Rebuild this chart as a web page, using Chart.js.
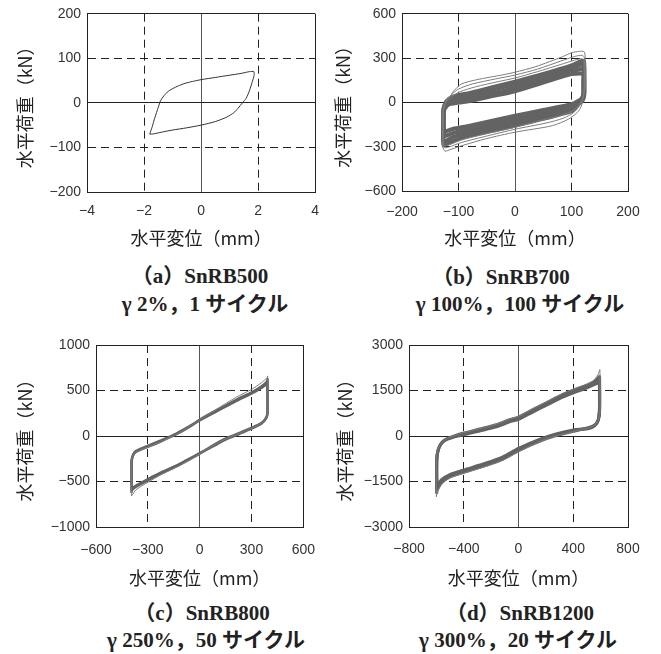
<!DOCTYPE html>
<html lang="ja">
<head>
<meta charset="utf-8">
<script src="https://cdn.jsdelivr.net/npm/chart.js@4.4.1/dist/chart.umd.min.js"></script>
<style>
  html, body { margin: 0; padding: 0; background: #fff; }
  #page { position: relative; width: 661px; height: 654px; overflow: hidden; }
  canvas { position: absolute; }
  .cap {
    position: absolute; transform: translate(-50%, -50%); white-space: nowrap;
    font-family: "Liberation Serif", "Noto Sans CJK JP", serif; font-weight: bold;
    font-size: 21px; line-height: 1; color: #222;
  }
</style>
</head>
<body>
<div id="page">
  <canvas id="chartA" width="330" height="255" style="left:0;top:0"></canvas>
  <canvas id="chartB" width="331" height="255" style="left:330px;top:0"></canvas>
  <canvas id="chartC" width="330" height="280" style="left:0;top:320px"></canvas>
  <canvas id="chartD" width="331" height="280" style="left:330px;top:320px"></canvas>

  <div class="cap" style="left:200px;top:276px">（a）SnRB500</div>
  <div class="cap" style="left:205px;top:304px">γ 2%，1 サイクル</div>
  <div class="cap" style="left:501px;top:277px">（b）SnRB700</div>
  <div class="cap" style="left:520px;top:304px">γ 100%，100 サイクル</div>
  <div class="cap" style="left:202px;top:613px">（c）SnRB800</div>
  <div class="cap" style="left:206px;top:640px">γ 250%，50 サイクル</div>
  <div class="cap" style="left:520px;top:613px">（d）SnRB1200</div>
  <div class="cap" style="left:518px;top:640px">γ 300%，20 サイクル</div>
</div>

<script>
// axis ranges [min, max, step]
const rangeXA = [-4, 4, 2],       rangeYA = [-200, 200, 100];
const rangeXB = [-200, 200, 100], rangeYB = [-600, 600, 300];
const rangeXC = [-600, 600, 300], rangeYC = [-1000, 1000, 500];
const rangeXD = [-800, 800, 400], rangeYD = [-3000, 3000, 1500];

const xTitle = '水平変位（mm）';
const yTitle = '水平荷重（kN）';

// loops as [displacement mm, load kN]
const loopA = [
  [-1.80,-70],[-1.72,-55],[-1.62,-33],[-1.50,-10],[-1.42,5],[-1.30,16],[-1.15,26],[-0.90,35],
  [-0.60,43],[-0.30,48],[0,52],[0.50,57],[1.00,62],[1.40,66],[1.70,70],[1.85,70],[1.86,62],
  [1.80,48],[1.70,28],[1.58,10],[1.45,0],[1.30,-12],[1.15,-22],[0.90,-32],[0.50,-42],[0,-50],
  [-0.50,-56],[-1.00,-61],[-1.40,-66],[-1.70,-70],[-1.80,-70]
];

// SnRB700: early cycles (thin) and the settled cycles (dark band)
const loopB1 = [
  [-124,-13],[-120,20],[-114,45],[-109,75],[-95,124],[-68,153],[-22,186],[0,204],[37,242],[84,309],
  [101,337],[114,345],[122,344],[124,320],[124,98],[120,20],[117,-30],[110,-69],[95,-113],[66,-158],
  [0,-202],[-51,-246],[-92,-291],[-115,-320],[-124,-330],[-128,-300],[-128,-58],[-124,-13]
];
const loopB2 = [
  [-125,-20],[-121,15],[-113,50],[-100,90],[-75,125],[-35,158],[0,185],[40,225],[80,278],[105,310],
  [119,318],[123,300],[123,90],[119,15],[113,-30],[103,-72],[85,-108],[55,-140],[0,-182],[-50,-228],
  [-95,-272],[-117,-302],[-126,-306],[-127,-280],[-127,-55],[-125,-20]
];
const loopB3 = [
  [-125,-25],[-121,8],[-112,40],[-97,72],[-70,105],[-30,140],[0,165],[40,208],[80,255],[105,285],
  [119,295],[122,280],[122,80],[118,10],[111,-28],[100,-62],[75,-95],[40,-128],[0,-168],[-50,-212],
  [-95,-255],[-117,-288],[-126,-292],[-127,-270],[-127,-50],[-125,-25]
];
const bandB1 = [
  [-126,-30],[-122,5],[-110,38],[-80,64],[-40,102],[0,140],[50,192],[100,250],[118,280],[122,280],
  [123,200],[123,60],[120,15],[110,-22],[100,-60],[50,-112],[0,-158],[-40,-192],[-80,-225],
  [-110,-262],[-124,-288],[-127,-285],[-127,-60],[-126,-30]
];
const bandB2 = [
  [-126,-36],[-121,-2],[-108,26],[-80,50],[-40,86],[0,122],[50,174],[100,230],[118,256],[122,255],
  [122,150],[122,60],[119,16],[110,-12],[100,-46],[50,-94],[0,-138],[-40,-172],[-80,-204],
  [-110,-236],[-124,-262],[-127,-258],[-127,-60],[-126,-36]
];
const bandB3 = [
  [-126,-42],[-120,-10],[-104,12],[-80,30],[-40,62],[0,98],[50,152],[100,210],[118,226],[122,224],
  [121,140],[121,60],[118,20],[112,2],[100,-28],[50,-72],[0,-114],[-40,-148],[-80,-180],
  [-110,-208],[-124,-228],[-126,-220],[-126,-70],[-126,-42]
];
const bandB4 = [
  [-125,-47],[-118,-15],[-100,-2],[-80,9],[-40,42],[0,75],[50,133],[100,191],[118,196],[121,190],
  [121,120],[121,60],[118,25],[113,12],[100,-13],[50,-52],[0,-91],[-40,-125],[-80,-158],
  [-110,-180],[-124,-195],[-126,-150],[-126,-80],[-125,-47]
];

// SnRB800
const loopC1 = [
  [-395,-660],[-396,-380],[-394,-265],[-378,-190],[-341,-152],[-301,-122],[-223,-60],[-132,22],
  [-60,100],[0,180],[85,280],[158,365],[230,445],[299,510],[357,585],[390,640],[393,660],[394,600],
  [394,252],[385,195],[357,140],[299,86],[230,30],[158,-25],[85,-100],[0,-195],[-78,-285],
  [-132,-340],[-223,-425],[-301,-510],[-368,-590],[-395,-660]
];
const loopC2 = [
  [-394,-625],[-395,-370],[-393,-259],[-377,-186],[-341,-150],[-301,-120],[-223,-58],[-132,22],
  [-60,99],[0,179],[85,270],[158,343],[230,416],[299,478],[357,544],[390,599],[393,625],[393,580],
  [393,252],[384,197],[357,142],[299,88],[230,33],[158,-22],[85,-95],[0,-195],[-78,-277],
  [-132,-332],[-223,-412],[-301,-489],[-368,-558],[-394,-600],[-394,-625]
];
const loopC3 = [
  [-393,-595],[-394,-360],[-392,-250],[-376,-178],[-340,-140],[-300,-108],[-223,-48],[-132,30],
  [-60,106],[0,172],[85,258],[158,330],[230,402],[299,465],[357,528],[389,575],[392,595],[392,560],
  [392,245],[383,190],[357,135],[299,80],[230,24],[158,-32],[85,-105],[0,-188],[-78,-268],
  [-132,-322],[-223,-400],[-301,-476],[-368,-545],[-393,-580],[-393,-595]
];

// SnRB1200
const loopD1 = [
  [-600,-2000],[-600,-800],[-590,-460],[-565,-230],[-528,-90],[-478,0],[-400,110],[-284,245],
  [-162,390],[-65,560],[0,650],[104,895],[201,1120],[322,1400],[400,1550],[492,1700],[553,1850],
  [584,2060],[594,2190],[595,1900],[595,870],[585,540],[560,370],[516,280],[400,145],[274,0],
  [153,-190],[0,-520],[-114,-800],[-235,-1000],[-400,-1225],[-502,-1385],[-562,-1590],
  [-594,-1850],[-600,-2000]
];
const loopD2 = [
  [-598,-1900],[-598,-780],[-587,-451],[-562,-231],[-526,-99],[-478,-11],[-400,99],[-284,231],
  [-162,374],[-65,538],[0,626],[104,868],[201,1088],[322,1363],[400,1506],[492,1659],[553,1790],
  [584,1930],[592,1960],[593,1800],[593,868],[584,539],[560,374],[516,286],[400,154],[274,11],
  [153,-176],[0,-480],[-114,-760],[-235,-960],[-400,-1198],[-502,-1352],[-562,-1540],
  [-594,-1780],[-598,-1900]
];
const loopD3 = [
  [-597,-1810],[-597,-770],[-586,-445],[-561,-228],[-525,-105],[-477,-25],[-400,70],[-284,198],
  [-162,337],[-65,500],[0,588],[104,830],[201,1046],[322,1320],[400,1463],[492,1615],[553,1740],
  [584,1845],[591,1855],[592,1720],[592,860],[583,530],[559,360],[515,268],[400,177],[274,40],
  [153,-143],[0,-445],[-114,-725],[-235,-925],[-400,-1160],[-502,-1311],[-562,-1490],
  [-594,-1715],[-597,-1810]
];
const loopD4 = [
  [-596,-1720],[-596,-760],[-585,-440],[-560,-225],[-524,-110],[-476,-40],[-400,40],[-284,165],
  [-162,300],[-65,465],[0,550],[104,790],[201,1005],[322,1280],[400,1420],[492,1570],[553,1690],
  [584,1760],[590,1750],[591,1650],[591,850],[582,520],[558,345],[514,250],[400,200],[274,70],
  [153,-110],[0,-410],[-114,-690],[-235,-890],[-400,-1120],[-502,-1270],[-562,-1440],
  [-594,-1650],[-596,-1720]
];

const toPts = arr => arr.map(([x, y]) => ({ x, y }));
const tickFmt = v => String(v).replace('-', '\u2212');

function loop(data, color, width) {
  return {
    data: toPts(data), showLine: true, fill: false, pointRadius: 0,
    borderColor: color, borderWidth: width, tension: 0.25
  };
}

// box: plot area edges inside the canvas, plus title and tick placement
function makePanel(id, box, rx, ry, datasets) {
  const cv = document.getElementById(id);
  const W = cv.width, H = cv.height;
  const gridColor = axis => ctx => {
    if (ctx.tick && ctx.tick.value === 0 && axis === 'x') return '#555';
    return '#222';
  };
  const gridDash = rng => ctx => {
    if (!ctx.tick) return [];
    const v = ctx.tick.value;
    return (v === 0 || v === rng[0] || v === rng[1]) ? [] : [8, 5];
  };
  const tickFont = { family: '"Liberation Sans", Arial, sans-serif', size: 14, lineHeight: 1.1 };
  const titleFont = { family: '"Noto Sans CJK JP", sans-serif', size: 18, lineHeight: 1 };

  return new Chart(cv, {
    type: 'scatter',
    data: { datasets },
    options: {
      responsive: false, animation: false,
      layout: { padding: { left: 0, top: box.top, right: W - box.right, bottom: 0 } },
      plugins: { legend: { display: false }, tooltip: { enabled: false } },
      scales: {
        x: {
          type: 'linear', position: 'bottom', min: rx[0], max: rx[1],
          afterFit: s => { s.height = H - box.bottom; },
          ticks: { stepSize: rx[2], autoSkip: false, maxRotation: 0, padding: box.xPad,
                   color: '#333', font: tickFont, callback: tickFmt },
          grid: { color: gridColor('x'), lineWidth: 1, drawTicks: false },
          border: { display: true, color: '#222', width: 1, dash: gridDash(rx) },
          title: { display: true, text: xTitle, color: '#222', font: titleFont,
                   padding: { top: 0, bottom: H - box.xTitleY - 9 } }
        },
        y: {
          type: 'linear', position: 'left', min: ry[0], max: ry[1],
          afterFit: s => { s.width = box.left; },
          ticks: { stepSize: ry[2], autoSkip: false, padding: 6,
                   color: '#333', font: tickFont, callback: tickFmt },
          grid: { color: gridColor('y'), lineWidth: 1, drawTicks: false },
          border: { display: true, color: '#222', width: 1, dash: gridDash(ry) },
          title: { display: true, text: yTitle, color: '#222', font: titleFont,
                   padding: { top: box.yTitleX - 9, bottom: 0 } }
        }
      }
    }
  });
}

const dark = '#636363', thin = '#7c7c7c';

makePanel('chartA', { left: 87, top: 9, right: 322, bottom: 192, xTitleY: 238, yTitleX: 25, xPad: 11 },
  rangeXA, rangeYA, [loop(loopA, '#333', 1)]);

makePanel('chartB', { left: 72, top: 8, right: 298, bottom: 191, xTitleY: 238, yTitleX: 13, xPad: 13 },
  rangeXB, rangeYB, [
    loop(loopB1, thin, 1), loop(loopB2, thin, 1), loop(loopB3, thin, 1),
    loop(bandB1, dark, 4), loop(bandB2, dark, 4), loop(bandB3, dark, 4), loop(bandB4, dark, 4)
  ]);

makePanel('chartC', { left: 96, top: 25, right: 315, bottom: 207, xTitleY: 258, yTitleX: 25, xPad: 15 },
  rangeXC, rangeYC, [
    loop(loopC1, thin, 1), loop(loopC2, dark, 2.5), loop(loopC3, dark, 2.5)
  ]);

makePanel('chartD', { left: 79, top: 25, right: 298, bottom: 207, xTitleY: 258, yTitleX: 15, xPad: 14 },
  rangeXD, rangeYD, [
    loop(loopD1, thin, 1), loop(loopD2, dark, 3), loop(loopD3, dark, 3), loop(loopD4, dark, 3)
  ]);
</script>
</body>
</html>
